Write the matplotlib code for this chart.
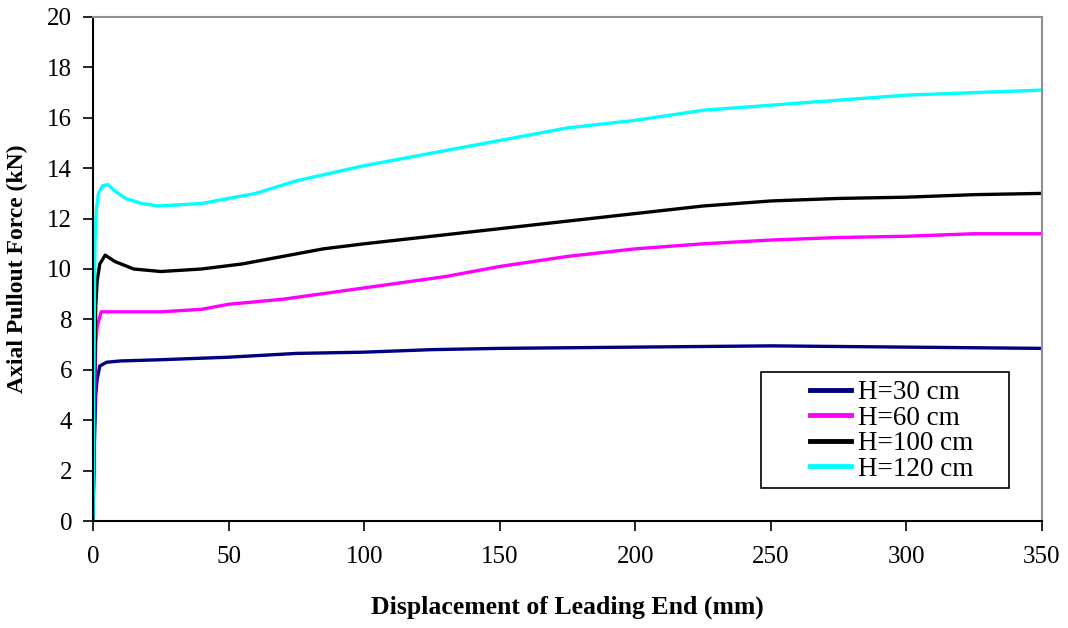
import numpy as np
import matplotlib
matplotlib.use('Agg')
import matplotlib.pyplot as plt
from matplotlib.patches import Rectangle

# Readings (displacement mm, force kN)
x_30 = [0, 0.5, 1.0, 1.5, 2.5, 5, 10, 25, 50, 75, 100, 125, 150, 200, 250, 300, 350]
f_30 = [0, 3.0, 5.0, 5.6, 6.15, 6.3, 6.35, 6.4, 6.5, 6.65, 6.7, 6.8, 6.85, 6.9, 6.95, 6.9, 6.85]

x_60 = [0, 0.5, 1.0, 1.5, 3, 10, 25, 40, 50, 70, 90, 110, 130, 150, 175, 200, 225, 250, 275, 300, 325, 350]
f_60 = [0, 4.0, 7.0, 7.7, 8.3, 8.3, 8.3, 8.4, 8.6, 8.8, 9.1, 9.4, 9.7, 10.1, 10.5, 10.8, 11.0, 11.15, 11.25, 11.3, 11.4, 11.4]

x_100 = [0, 0.5, 1.0, 1.5, 2.5, 4.5, 8, 15, 25, 40, 55, 70, 85, 100, 125, 150, 175, 200, 225, 250, 275, 300, 325, 350]
f_100 = [0, 5.0, 8.5, 9.5, 10.2, 10.55, 10.3, 10.0, 9.9, 10.0, 10.2, 10.5, 10.8, 11.0, 11.3, 11.6, 11.9, 12.2, 12.5, 12.7, 12.8, 12.85, 12.95, 13.0]

x_120 = [0, 0.3, 0.7, 1.2, 2, 3.5, 5.5, 8, 12, 18, 24, 40, 60, 75, 100, 125, 150, 175, 200, 225, 250, 275, 300, 325, 350]
f_120 = [0, 5.0, 11.0, 12.3, 13.0, 13.3, 13.35, 13.1, 12.8, 12.6, 12.5, 12.6, 13.0, 13.5, 14.1, 14.6, 15.1, 15.6, 15.9, 16.3, 16.5, 16.7, 16.9, 17.0, 17.1]

plt.rcParams['font.family'] = ['Liberation Serif', 'DejaVu Serif']

W, H = 1068, 628
x0, x1, y0, y1 = 93, 1042, 17, 521   # axes box in pixels

fig = plt.figure(figsize=(W / 100, H / 100), dpi=100)
ax = fig.add_axes([x0 / W, 1 - y1 / H, (x1 - x0) / W, (y1 - y0) / H])

ax.plot(x_30, f_30, color='#000080', lw=2.4, label='H=30 cm')
ax.plot(x_60, f_60, color='#FF00FF', lw=2.4, label='H=60 cm')
ax.plot(x_100, f_100, color='black', lw=2.4, label='H=100 cm')
ax.plot(x_120, f_120, color='#00FFFF', lw=2.4, label='H=120 cm')

ax.set_xlim(0, 350)
ax.set_ylim(0, 20)
ax.set_xticks(np.arange(0, 351, 50))
ax.set_yticks(np.arange(0, 21, 2))
ax.tick_params(direction='out', length=7, width=1.2, labelsize=18)
ax.tick_params(axis='x', pad=11)
ax.tick_params(axis='y', pad=8)

for side in ['top', 'right']:
    ax.spines[side].set_color('#909090')
    ax.spines[side].set_linewidth(1.5)
for side in ['left', 'bottom']:
    ax.spines[side].set_linewidth(1.5)

ax.set_xlabel('Displacement of Leading End (mm)', fontsize=18.5, fontweight='bold', labelpad=20)
ax.set_ylabel('Axial Pullout Force (kN)', fontsize=17, fontweight='bold', labelpad=14)

# legend box drawn separately to get Excel-like wide padding
def ax_x(px):
    return (px - x0) / (x1 - x0)

def ax_y(py):
    return (y1 - py) / (y1 - y0)

ax.add_patch(Rectangle((ax_x(761), ax_y(488)), ax_x(1009) - ax_x(761), ax_y(372) - ax_y(488),
                       transform=ax.transAxes, facecolor='white', edgecolor='black',
                       lw=1.2, zorder=5))
leg = ax.legend(loc='upper left', bbox_to_anchor=(ax_x(810), ax_y(380)),
                fontsize=19.5, frameon=False, handlelength=1.5, handletextpad=0.28,
                labelspacing=0.02, borderpad=0, borderaxespad=0)
leg.set_zorder(6)
for line in leg.get_lines():
    line.set_linewidth(3.5)

fig.savefig('out.png', dpi=100)
